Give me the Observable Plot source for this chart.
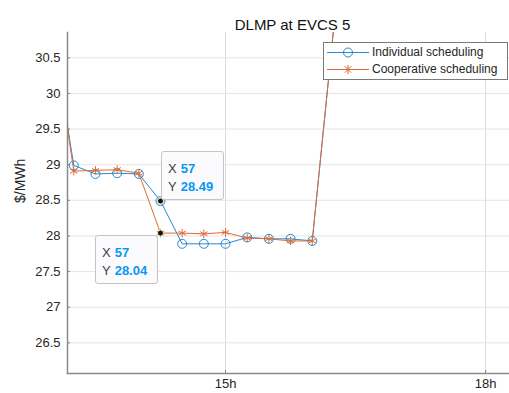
<!DOCTYPE html>
<html>
<head>
<meta charset="utf-8">
<script src="https://cdn.jsdelivr.net/npm/d3@7"></script>
<script src="https://cdn.jsdelivr.net/npm/@observablehq/plot@0.6"></script>
<style>
  body { margin: 0; background: #fff; }
  #chart { position: relative; width: 509px; height: 393px; overflow: hidden;
           font-family: "Liberation Sans", Arial, sans-serif; color: #262626; }
  .legend { position: absolute; background: #fff; border: 1px solid #7a7a7a;
            font-size: 12px; line-height: 17px; padding: 1px 0; }
  .legend .row { display: flex; align-items: center; height: 17px; }
  .legend svg { display: block; margin: 0 3px 0 3px; }
  .tip { position: absolute; box-sizing: border-box; background: #fbfbfd;
         border: 1px solid #c4c4c4; border-radius: 3px; font-size: 13px;
         line-height: 18px; padding: 8px 0 0 6px; color: #404040; }
  .tip b { color: #0a96f5; margin-left: 4px; }
</style>
</head>
<body>
<div id="chart"></div>
<script>
// Time steps (15-minute intervals) and DLMP values in $/MWh
const steps = [52, 53, 54, 55, 56, 57, 58, 59, 60, 61, 62, 63, 64, 65];
const individual  = [30.90, 28.99, 28.87, 28.88, 28.87, 28.49, 27.89, 27.89, 27.89, 27.98, 27.96, 27.96, 27.93, 30.95];
const cooperative = [30.95, 28.91, 28.92, 28.93, 28.88, 28.04, 28.04, 28.03, 28.05, 27.97, 27.96, 27.93, 27.93, 30.95];

// Axis ticks
const xTickValues = [60, 72];
const xTickLabels = ["15h", "18h"];
const yTickValues = [26.5, 27, 27.5, 28, 28.5, 29, 29.5, 30, 30.5];

// Highlighted data tips
const tipX = [57, 57];
const tipY = [28.49, 28.04];

const seriesNames = ["Individual scheduling", "Cooperative scheduling"];
const blue = "#2a88cc", orange = "#de6a38";

const indData = steps.map((s, i) => ({x: s, y: individual[i]}));
const coopData = steps.map((s, i) => ({x: s, y: cooperative[i]}));
const tips = tipX.map((x, i) => ({x, y: tipY[i]}));

const plot = Plot.plot({
  width: 509,
  height: 393,
  marginLeft: 67,
  marginRight: 0,
  marginTop: 32,
  marginBottom: 20,
  style: {fontFamily: "'Liberation Sans', Arial, sans-serif", fontSize: "13px", color: "#262626", background: "#fff"},
  x: {domain: [52.71, 73.1]},
  y: {domain: [26.07, 30.855]},
  marks: [
    Plot.gridX(xTickValues, {stroke: "#dcdcdc", strokeOpacity: 1}),
    Plot.gridY(yTickValues, {stroke: "#e4e4e4", strokeOpacity: 1}),
    Plot.axisX({ticks: xTickValues, tickFormat: (d) => xTickLabels[xTickValues.indexOf(d)],
      tickSize: -3, tickPadding: 8, stroke: "#808080", fill: "#262626", fontSize: 13, label: null}),
    Plot.axisY({ticks: yTickValues, tickFormat: d => String(d),
      tickSize: -3, tickPadding: 10, stroke: "#808080", fill: "#262626", fontSize: 13, label: null}),
    Plot.frame({anchor: "left", stroke: "#8a8a8a", strokeWidth: 1.5}),
    Plot.frame({anchor: "bottom", stroke: "#8a8a8a", strokeWidth: 1.5}),
    Plot.line(indData, {x: "x", y: "y", stroke: blue, strokeWidth: 1, clip: true}),
    Plot.dot(indData, {x: "x", y: "y", symbol: "circle", r: 4.5, stroke: blue, strokeWidth: 1, fill: "none", clip: true}),
    Plot.line(coopData, {x: "x", y: "y", stroke: orange, strokeWidth: 1, clip: true}),
    Plot.dot(coopData, {x: "x", y: "y", symbol: "asterisk", r: 4, stroke: orange, strokeWidth: 1, clip: true}),
    Plot.dot(tips, {x: "x", y: "y", r: 3, fill: "#111", stroke: "#f3edb8", strokeWidth: 1}),
    Plot.text(["DLMP at EVCS 5"], {frameAnchor: "top", dy: -13, dx: 4, fontSize: 15, fill: "#111"}),
    Plot.text(["$/MWh"], {frameAnchor: "left", dx: -47, rotate: -90, fontSize: 14, fill: "#262626"})
  ]
});

const chart = document.getElementById("chart");
chart.appendChild(plot);

// Legend box
const legend = document.createElement("div");
legend.className = "legend";
legend.style.left = "323px";
legend.style.top = "42px";
legend.style.width = "183px";
const swatch = (color, kind) => {
  const mark = kind === "circle"
    ? `<circle cx="21" cy="8.5" r="4.5" fill="none" stroke="${color}"/>`
    : `<path d="M21,4v9M16.5,8.5h9M17.8,5.3l6.4,6.4M24.2,5.3l-6.4,6.4" stroke="${color}"/>`;
  return `<svg width="42" height="17"><line x1="0" x2="42" y1="8.5" y2="8.5" stroke="${color}"/>${mark}</svg>`;
};
legend.innerHTML =
  `<div class="row">${swatch(blue, "circle")}<span>${seriesNames[0]}</span></div>` +
  `<div class="row">${swatch(orange, "asterisk")}<span>${seriesNames[1]}</span></div>`;
chart.appendChild(legend);

// Data tip boxes placed from the plot's own scales
const sx = plot.scale("x"), sy = plot.scale("y");
tips.forEach((t, i) => {
  const px = sx.apply(t.x), py = sy.apply(t.y);
  const box = document.createElement("div");
  box.className = "tip";
  box.style.width = "63px";
  box.style.height = "49px";
  if (i === 0) {
    box.style.left = (px + 1) + "px";
    box.style.top = (py - 50) + "px";
  } else {
    box.style.left = (px - 65) + "px";
    box.style.top = (py + 2) + "px";
  }
  box.innerHTML = `<div>X<b>${t.x}</b></div><div>Y<b>${t.y.toFixed(2)}</b></div>`;
  chart.appendChild(box);
});
</script>
</body>
</html>
